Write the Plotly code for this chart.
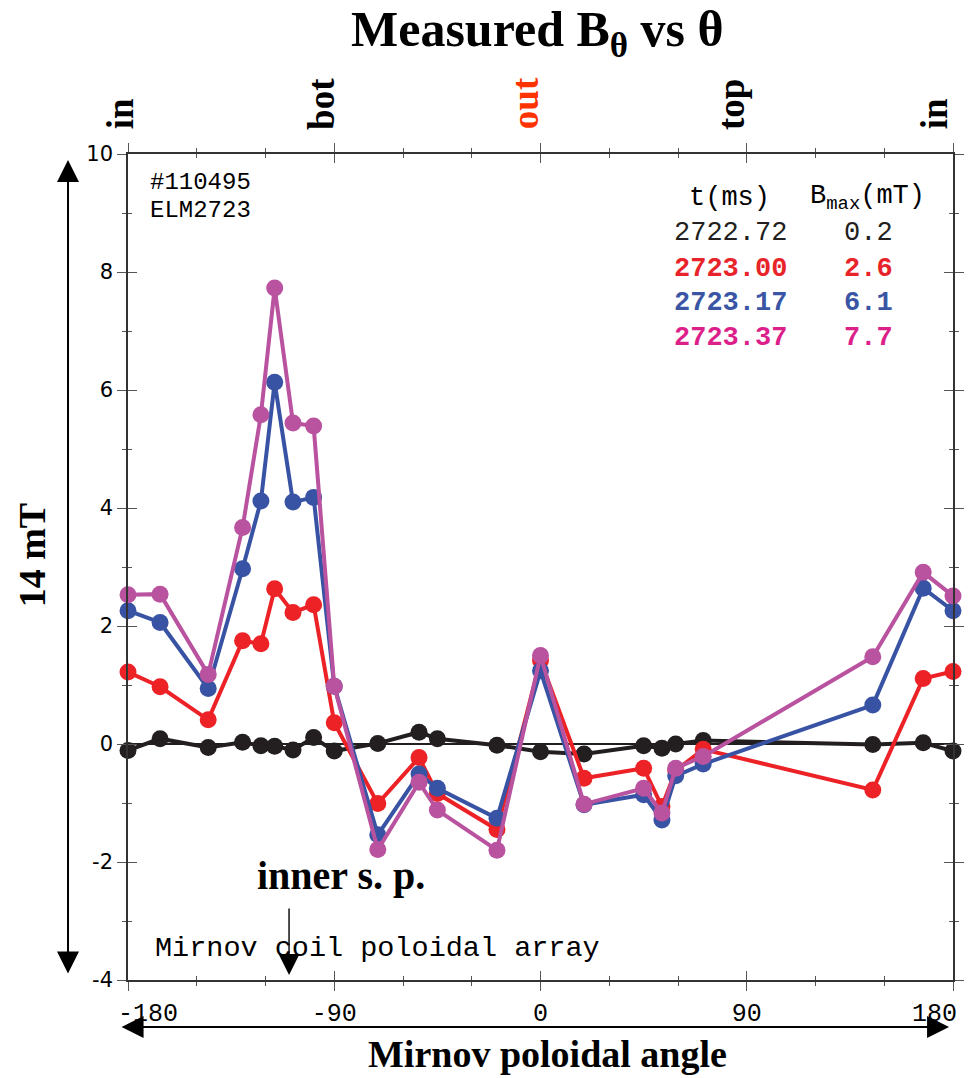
import plotly.graph_objects as go

# ---------------- data ----------------
angles = [-180, -166, -145, -130, -122, -116, -108, -99, -90, -71, -53, -45,
          -19, 0, 19, 45, 53, 59, 71, 145, 167, 180]

b_2722_72 = [-0.11, 0.09, -0.06, 0.03, -0.03, -0.04, -0.10, 0.11, -0.12, 0.01, 0.20, 0.09,
             -0.02, -0.13, -0.17, -0.03, -0.07, 0.00, 0.06, -0.01, 0.02, -0.12]
b_2723_00 = [1.22, 0.97, 0.41, 1.75, 1.70, 2.63, 2.23, 2.36, 0.36, -1.01, -0.23, -0.84,
             -1.45, 1.42, -0.58, -0.41, -1.06, -0.45, -0.09, -0.78, 1.11, 1.23]
b_2723_17 = [2.26, 2.06, 0.94, 2.97, 4.12, 6.13, 4.10, 4.18, 0.98, -1.54, -0.51, -0.75,
             -1.26, 1.24, -1.03, -0.86, -1.29, -0.54, -0.34, 0.66, 2.64, 2.26]
b_2723_37 = [2.53, 2.54, 1.18, 3.67, 5.58, 7.73, 5.44, 5.39, 0.98, -1.79, -0.65, -1.12,
             -1.80, 1.50, -1.02, -0.75, -1.17, -0.41, -0.21, 1.48, 2.91, 2.51]

series_times = ["2722.72", "2723.00", "2723.17", "2723.37"]
series_bmax = ["0.2", "2.6", "6.1", "7.7"]

x_tickvals = [-180, -90, 0, 90, 180]
x_ticktext = ["-180", "-90", "0", "90", "180"]
x_minor = [-150, -120, -60, -30, 30, 60, 120, 150]
y_tickvals = [-4, -2, 0, 2, 4, 6, 8, 10]
y_ticktext = ["-4", "-2", "0", "2", "4", "6", "8", "10"]
y_minor = [-3, -1, 1, 3, 5, 7, 9]

top_labels = ["in", "bot", "out", "top", "in"]
top_label_angles = [-180, -90, 0, 90, 180]

# ---------------- style ----------------
line_colors = ["#231f20", "#ec2227", "#3953a4", "#b9529f"]
legend_colors = ["#231f20", "#e8242a", "#3b55a5", "#dc1f8a"]
top_label_xshift = [-8, -13, -15, -16, -19]
SERIF = "Liberation Serif"
MONO = "Liberation Mono"

fig = go.Figure()
for vals, col in zip([b_2722_72, b_2723_00, b_2723_17, b_2723_37], line_colors):
    fig.add_trace(go.Scatter(
        x=angles, y=vals, mode="lines+markers",
        line=dict(color=col, width=4),
        marker=dict(color=col, size=17),
        cliponaxis=False, showlegend=False, xaxis="x", yaxis="y"))

# invisible trace to activate overlay axes
fig.add_trace(go.Scatter(x=[angles[0]], y=[0], mode="markers", marker=dict(opacity=0),
                         showlegend=False, xaxis="x2", yaxis="y2", hoverinfo="skip"))

tick_font = dict(family=MONO, size=25, color="#000")
# interior tick labels drawn by the axis; the two end labels are placed flush with the ends
axis_ticktext = [t if abs(v) != 180 else "" for v, t in zip(x_tickvals, x_ticktext)]

fig.update_layout(
    width=970, height=1078,
    margin=dict(l=128, r=17, t=154, b=98, autoexpand=False),
    paper_bgcolor="white", plot_bgcolor="white",
    xaxis=dict(range=[-180, 180], tickvals=x_tickvals, ticktext=axis_ticktext, automargin=False,
               ticks="outside", ticklen=9, tickwidth=1, tickcolor="#555",
               minor=dict(tickvals=x_minor, ticks="outside", ticklen=4, tickwidth=1, tickcolor="#555"),
               showline=True, linecolor="#333", linewidth=1.5, mirror="ticks",
               showgrid=False, zeroline=False, tickfont=tick_font, ticklabelstandoff=0),
    yaxis=dict(range=[-4, 10], tickvals=y_tickvals, ticktext=y_ticktext, automargin=False,
               ticks="outside", ticklen=9, tickwidth=1, tickcolor="#555",
               minor=dict(tickvals=y_minor, ticks="outside", ticklen=4, tickwidth=1, tickcolor="#555"),
               showline=True, linecolor="#333", linewidth=1.5, mirror="ticks",
               showgrid=False, zeroline=True, zerolinecolor="#231f20", zerolinewidth=1.5,
               tickfont=dict(family="DejaVu Sans", size=21, color="#000")),
    xaxis2=dict(range=[-180, 180], overlaying="x", anchor="y2", side="bottom", automargin=False,
                tickvals=x_tickvals, ticks="inside", ticklen=9, tickwidth=1, tickcolor="#555",
                minor=dict(tickvals=x_minor, ticks="inside", ticklen=4, tickwidth=1, tickcolor="#555"),
                showticklabels=False, showline=False, mirror="ticks", showgrid=False, zeroline=False),
    yaxis2=dict(range=[-4, 10], overlaying="y", anchor="x2", side="left", automargin=False,
                tickvals=y_tickvals, ticks="inside", ticklen=9, tickwidth=1, tickcolor="#555",
                minor=dict(tickvals=y_minor, ticks="inside", ticklen=4, tickwidth=1, tickcolor="#555"),
                showticklabels=False, showline=False, mirror="ticks", showgrid=False, zeroline=False),
)

ann = []
# end tick labels (-180 / 180)
for v, t in zip(x_tickvals, x_ticktext):
    if abs(v) == 180:
        ann.append(dict(text=t, x=v, y=-0.0418, xref="x", yref="paper",
                        xanchor="left" if v < 0 else "right", xshift=-12 if v < 0 else 6,
                        yanchor="middle", showarrow=False, font=tick_font))
# title
ann.append(dict(text="<b>Measured B<sub>θ</sub> vs θ</b>", x=0.4958, y=1.146, xref="paper", yref="paper",
                xanchor="center", yanchor="middle", showarrow=False,
                font=dict(family=SERIF, size=50, color="#000")))
# top position labels
for lab, a, xs in zip(top_labels, top_label_angles, top_label_xshift):
    ann.append(dict(text="<b>%s</b>" % lab, x=a, y=1.027, xref="x", yref="paper", xshift=xs,
                    xanchor="center", yanchor="bottom", textangle=-90, showarrow=False,
                    font=dict(family=SERIF, size=37, color="#ff3300" if lab == "out" else "#000")))
# y label
ann.append(dict(text="<b>14 mT</b>", x=-0.116, y=0.5145, xref="paper", yref="paper",
                xanchor="center", yanchor="middle", textangle=-90, showarrow=False,
                font=dict(family=SERIF, size=38, color="#000")))
# x label
ann.append(dict(text="<b>Mirnov poloidal angle</b>", x=0.508, y=-0.089, xref="paper", yref="paper",
                xanchor="center", yanchor="middle", showarrow=False,
                font=dict(family=SERIF, size=38, color="#000")))
# vertical double arrow
ann.append(dict(text="", x=-0.0727, y=0.9927, xref="paper", yref="paper", ax=0, ay=815,
                showarrow=True, arrowhead=2, arrowsize=2.2, arrowwidth=2, arrowcolor="#000",
                arrowside="end+start", startarrowhead=2, startarrowsize=2.2))
# horizontal double arrow
ann.append(dict(text="", x=0.9952, y=-0.0569, xref="paper", yref="paper", ax=-829, ay=0,
                showarrow=True, arrowhead=2, arrowsize=2.2, arrowwidth=2, arrowcolor="#000",
                arrowside="end+start", startarrowhead=2, startarrowsize=2.2))
# inner s.p.
ann.append(dict(text="<b>inner s. p.</b>", x=0.2582, y=0.127, xref="paper", yref="paper",
                xanchor="center", yanchor="middle", showarrow=False,
                font=dict(family=SERIF, size=40, color="#000")))
ann.append(dict(text="", x=0.1952, y=0.006, xref="paper", yref="paper", ax=0, ay=-68,
                showarrow=True, arrowhead=2, arrowsize=3, arrowwidth=1.4, arrowcolor="#000"))
# mirnov coil text
ann.append(dict(text="Mirnov coil poloidal array", x=0.0303, y=0.0387, xref="paper", yref="paper",
                xanchor="left", yanchor="middle", showarrow=False,
                font=dict(family=MONO, size=28.5, color="#000")))
# shot info
ann.append(dict(text="#110495", x=0.024, y=0.9649, xref="paper", yref="paper",
                xanchor="left", yanchor="middle", showarrow=False,
                font=dict(family=MONO, size=24, color="#000")))
ann.append(dict(text="ELM2723", x=0.024, y=0.931, xref="paper", yref="paper",
                xanchor="left", yanchor="middle", showarrow=False,
                font=dict(family=MONO, size=24, color="#000")))
# legend table
ann.append(dict(text="t(ms)", x=0.7285, y=0.9467, xref="paper", yref="paper",
                xanchor="center", yanchor="middle", showarrow=False,
                font=dict(family=MONO, size=27, color="#000")))
ann.append(dict(text="B<sub>max</sub>(mT)", x=0.8965, y=0.9467, xref="paper", yref="paper",
                xanchor="center", yanchor="middle", showarrow=False,
                font=dict(family=MONO, size=27, color="#000")))
row_y = [0.9044, 0.8608, 0.8196, 0.7772]
for i, (t, b, c) in enumerate(zip(series_times, series_bmax, legend_colors)):
    fmt = "%s" if i == 0 else "<b>%s</b>"
    ann.append(dict(text=fmt % t, x=0.7309, y=row_y[i], xref="paper", yref="paper",
                    xanchor="center", yanchor="middle", showarrow=False,
                    font=dict(family=MONO, size=27, color=c)))
    ann.append(dict(text=fmt % b, x=0.898, y=row_y[i], xref="paper", yref="paper",
                    xanchor="center", yanchor="middle", showarrow=False,
                    font=dict(family=MONO, size=27, color=c)))

fig.update_layout(annotations=ann)
fig.write_html("out.html")
